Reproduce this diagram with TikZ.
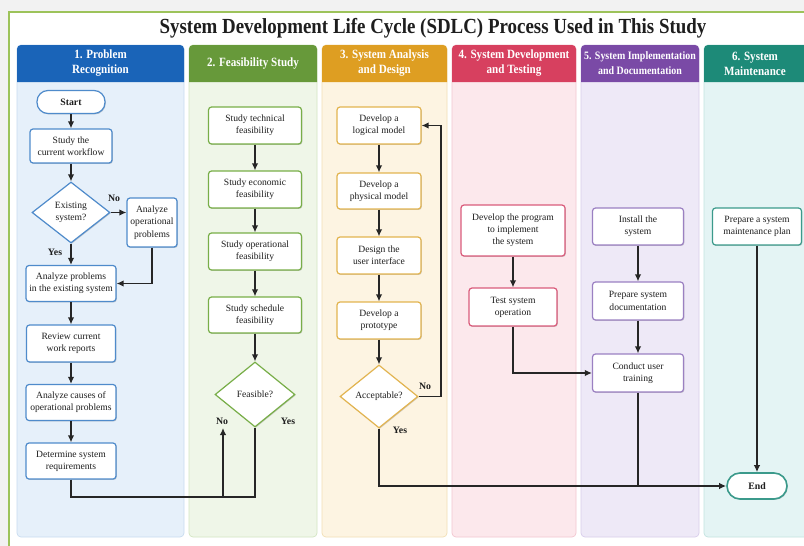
\documentclass[tikz,border=0pt]{standalone}
\usepackage{fontspec}
\setmainfont{Liberation Serif}
\newfontfamily\condfont{Liberation Serif}[FakeStretch=0.88]
\usetikzlibrary{arrows.meta,shapes.geometric,shadows}
\definecolor{hA}{HTML}{1A64B8}\definecolor{bA}{HTML}{E6F0FA}\definecolor{nA}{HTML}{4F8BCB}\definecolor{lA}{HTML}{C8DCF0}
\definecolor{hB}{HTML}{67993A}\definecolor{bB}{HTML}{EFF6E8}\definecolor{nB}{HTML}{78AE48}\definecolor{lB}{HTML}{D3E6C2}
\definecolor{hC}{HTML}{DE9E22}\definecolor{bC}{HTML}{FDF4E2}\definecolor{nC}{HTML}{E2B450}\definecolor{lC}{HTML}{F2DFB5}
\definecolor{hD}{HTML}{D7405F}\definecolor{bD}{HTML}{FCE8EC}\definecolor{nD}{HTML}{DA5B7B}\definecolor{lD}{HTML}{F3C6D0}
\definecolor{hE}{HTML}{7A4AA6}\definecolor{bE}{HTML}{EEE9F7}\definecolor{nE}{HTML}{9B80C2}\definecolor{lE}{HTML}{D8CDEB}
\definecolor{hF}{HTML}{1D8A78}\definecolor{bF}{HTML}{E4F4F4}\definecolor{nF}{HTML}{3B9A8B}\definecolor{lF}{HTML}{C3E3E0}
\definecolor{frameG}{HTML}{9DC35A}
\definecolor{outbg}{HTML}{F2F2F2}
\definecolor{ink}{HTML}{1E1E1E}
\definecolor{wire}{HTML}{262626}
\tikzset{
  box/.style={rectangle, rounded corners=3pt, draw, fill=white, line width=1.2pt, align=center,
    font=\fontsize{9.6}{12.2}\selectfont, text=ink, inner sep=1pt,
    drop shadow={shadow xshift=0.8pt, shadow yshift=-0.9pt, opacity=0.18, fill=black}},
  dbox/.style={diamond, draw, fill=white, line width=1.2pt, align=center,
    font=\fontsize{9.6}{12.2}\selectfont, text=ink, inner sep=0pt,
    drop shadow={shadow xshift=0.8pt, shadow yshift=-0.9pt, opacity=0.18, fill=black}},
  term/.style={box, rounded corners=11pt, font=\bfseries\fontsize{9.8}{12}\selectfont},
  hdr/.style={font=\condfont\bfseries\fontsize{12.6}{15}\selectfont, text=white, align=center},
  flow/.style={draw=wire, line width=1.6pt, -{Latex[length=7pt,width=6.5pt]}},
  link/.style={draw=wire, line width=1.6pt},
  lbl/.style={font=\bfseries\fontsize{9.8}{11}\selectfont, text=ink},
}
\newcommand{\lane}[5]{% x1, x2, header colour, body colour, border colour
  \fill[#4, draw=#5, line width=0.7pt, rounded corners=4pt] (#1,45) rectangle (#2,537);
  \fill[#3] (#1,82) {[rounded corners=4pt] -- (#1,45) -- (#2,45)} -- (#2,82) -- cycle;
}
\begin{document}
\begin{tikzpicture}[x=1pt,y=-1pt]
\useasboundingbox (0,0) rectangle (804,546);
\clip (0,0) rectangle (804,546);
\fill[outbg] (0,0) rectangle (804,546);
\fill[white, draw=frameG, line width=2pt] (9,12) rectangle (830,570);

\node[font=\condfont\bfseries\fontsize{21.5}{25}\selectfont, text=ink] (title) at (433,28) {System Development Life Cycle (SDLC) Process Used in This Study};

\lane{17}{184}{hA}{bA}{lA}
\lane{189}{317}{hB}{bB}{lB}
\lane{322}{447}{hC}{bC}{lC}
\lane{452}{576}{hD}{bD}{lD}
\lane{581}{699}{hE}{bE}{lE}
\lane{704}{830}{hF}{bF}{lF}

\node[hdr] (h1) at (100.5,63.5) {1. Problem\\Recognition};
\node[hdr] (h2) at (253,63.5) {2. Feasibility Study};
\node[hdr] (h3) at (384.5,63.5) {3. System Analysis\\and Design};
\node[hdr] (h4) at (514,63.5) {4. System Development\\and Testing};
\node[hdr, font=\condfont\bfseries\fontsize{11.3}{15}\selectfont] (h5) at (640,63.5) {5. System Implementation\\and Documentation};
\node[hdr] (h6) at (755,63.5) {6. System\\Maintenance};

% lane 1
\node[term, draw=nA, minimum width=68pt, minimum height=23pt] (start) at (71,102) {Start};
\node[box, draw=nA, minimum width=82pt, minimum height=34pt] (wf) at (71,146) {Study the\\current workflow};
\node[dbox, draw=nA, minimum width=78pt, minimum height=61pt] (exist) at (71,212.5) {Existing\\system?};
\node[box, draw=nA, minimum width=50pt, minimum height=49pt] (anaop) at (152,222.5) {Analyze\\operational\\problems};
\node[box, draw=nA, minimum width=90pt, minimum height=36pt] (anprob) at (71,283.5) {Analyze problems\\in the existing system};
\node[box, draw=nA, minimum width=89pt, minimum height=37pt] (review) at (71,343.5) {Review current\\work reports};
\node[box, draw=nA, minimum width=90pt, minimum height=36pt] (causes) at (71,402.5) {Analyze causes of\\operational problems};
\node[box, draw=nA, minimum width=90pt, minimum height=36pt] (det) at (71,461) {Determine system\\requirements};

% lane 2
\node[box, draw=nB, minimum width=93pt, minimum height=37pt] (tech) at (255,125.5) {Study technical\\feasibility};
\node[box, draw=nB, minimum width=93pt, minimum height=37pt] (econ) at (255,189.5) {Study economic\\feasibility};
\node[box, draw=nB, minimum width=93pt, minimum height=37pt] (oper) at (255,251.5) {Study operational\\feasibility};
\node[box, draw=nB, minimum width=93pt, minimum height=36pt] (sched) at (255,315) {Study schedule\\feasibility};
\node[dbox, draw=nB, minimum width=80pt, minimum height=65pt] (feas) at (255,394.5) {Feasible?};

% lane 3
\node[box, draw=nC, minimum width=84pt, minimum height=37pt] (logic) at (379,125.5) {Develop a\\logical model};
\node[box, draw=nC, minimum width=84pt, minimum height=36pt] (phys) at (379,191) {Develop a\\physical model};
\node[box, draw=nC, minimum width=84pt, minimum height=37pt] (ui) at (379,255.5) {Design the\\user interface};
\node[box, draw=nC, minimum width=84pt, minimum height=37pt] (proto) at (379,320.5) {Develop a\\prototype};
\node[dbox, draw=nC, minimum width=78pt, minimum height=63pt] (acc) at (379,396.5) {Acceptable?};

% lane 4
\node[box, draw=nD, minimum width=104pt, minimum height=51pt] (prog) at (513,230.5) {Develop the program\\to implement\\the system};
\node[box, draw=nD, minimum width=88pt, minimum height=38pt] (test) at (513,307) {Test system\\operation};

% lane 5
\node[box, draw=nE, minimum width=91pt, minimum height=37pt] (inst) at (638,226.5) {Install the\\system};
\node[box, draw=nE, minimum width=91pt, minimum height=38pt] (doc) at (638,301) {Prepare system\\documentation};
\node[box, draw=nE, minimum width=91pt, minimum height=38pt] (train) at (638,373) {Conduct user\\training};

% lane 6
\node[box, draw=nF, minimum width=89pt, minimum height=37pt] (maint) at (757,226.5) {Prepare a system\\maintenance plan};
\node[term, draw=nF, line width=1.6pt, rounded corners=13pt, minimum width=60pt, minimum height=26pt] (end) at (757,486) {End};

% junction coordinates
\coordinate (j1) at (223,497);
\coordinate (j2) at (255,497);
\coordinate (j3) at (223,428);
\coordinate (j4) at (441,396.5);
\coordinate (j5) at (638,486);

% connectors lane 1
\draw[flow] (start) -- (wf);
\draw[flow] (wf) -- (exist);
\draw[flow] (exist.east) -- (anaop.west |- exist.east);
\draw[flow] (anaop.south) |- (anprob.east);
\draw[flow] (exist.south) -- (anprob.north -| exist.south);
\draw[flow] (anprob) -- (review);
\draw[flow] (review) -- (causes);
\draw[flow] (causes) -- (det);
\draw[link] (det.south) |- (j2) -- (feas.south);
\draw[flow] (j1) -- (j3);
\node[lbl] (lno1) at (114,198) {No};
\node[lbl] (lyes1) at (55,252) {Yes};

% lane 2
\draw[flow] (tech) -- (econ);
\draw[flow] (econ) -- (oper);
\draw[flow] (oper) -- (sched);
\draw[flow] (sched) -- (feas);
\node[lbl] (lno2) at (222,421) {No};
\node[lbl] (lyes2) at (288,421) {Yes};

% lane 3
\draw[flow] (logic) -- (phys);
\draw[flow] (phys) -- (ui);
\draw[flow] (ui) -- (proto);
\draw[flow] (proto) -- (acc);
\draw[flow] (acc.east) -- (j4) |- (logic.east);
\draw[flow] (acc.south) |- (end.west);
\node[lbl] (lno3) at (425,386) {No};
\node[lbl] (lyes3) at (400,430) {Yes};

% lane 4
\draw[flow] (prog) -- (test);
\draw[flow] (test.south) |- (train.west);

% lane 5
\draw[flow] (inst) -- (doc);
\draw[flow] (doc) -- (train);
\draw[link] (train.south) -- (j5);

% lane 6
\draw[flow] (maint) -- (end);
\end{tikzpicture}
\end{document}
